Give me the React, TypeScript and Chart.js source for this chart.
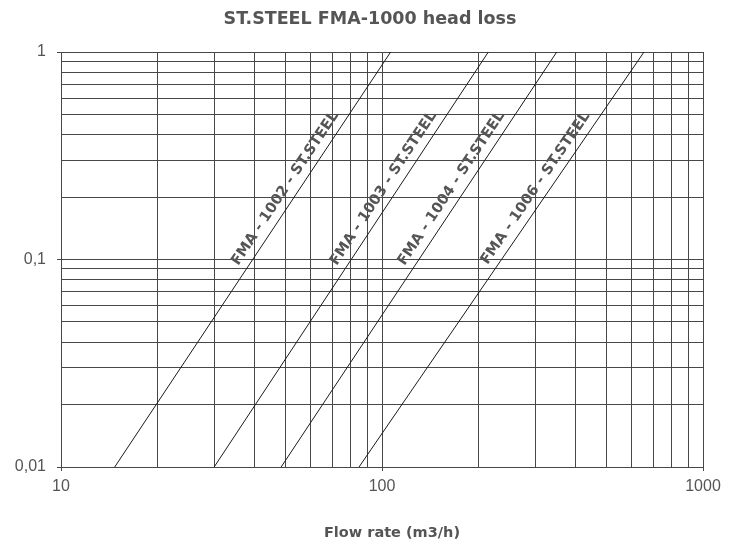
import React, { useEffect, useRef } from 'react';
import { Chart, registerables } from 'chart.js';

Chart.register(...registerables);

// ---- Data ----
const seriesNames = [
  'FMA - 1002 - ST.STEEL',
  'FMA - 1003 - ST.STEEL',
  'FMA - 1004 - ST.STEEL',
  'FMA - 1006 - ST.STEEL',
];
// flow rate (m3/h) where each line crosses head loss 0.01 and 1
const flowAtLow = [14.7, 30.0, 48.5, 84.8];
const flowAtHigh = [106.4, 214.4, 350.2, 655.0];
const headLossLow = 0.01;
const headLossHigh = 1;

const xMin = 10;
const xMax = 1000;
const yMin = 0.01;
const yMax = 1;
const xMajorTicks = [10, 100, 1000];
const xMajorLabels = ['10', '100', '1000'];
const yMajorTicks = [0.01, 0.1, 1];
const yMajorLabels = ['0,01', '0,1', '1'];

const chartTitle = 'ST.STEEL FMA-1000 head loss';
const xAxisTitle = 'Flow rate (m3/h)';

// ---- helpers ----
function decadeTicks(min: number, max: number) {
  const out: number[] = [];
  let d = min;
  while (d < max * 1.0001) {
    for (let m = 1; m <= 9; m++) {
      const v = parseFloat((m * d).toPrecision(6));
      if (v <= max * 1.0001) out.push(v);
    }
    d = parseFloat((d * 10).toPrecision(6));
  }
  return out.filter((v, i, a) => a.indexOf(v) === i);
}

function majorIndex(majors: number[], v: number) {
  return majors.findIndex((m) => Math.abs(m - v) / m < 1e-6);
}

const textColor = '#555555';
const gridColor = '#474747';
const boldFamily = '"DejaVu Sans"';

const lineLabelPlugin = {
  id: 'lineLabels',
  afterDatasetsDraw(chart: any) {
    const ctx = chart.ctx;
    chart.data.datasets.forEach((ds: any, i: number) => {
      const meta = chart.getDatasetMeta(i);
      const p0 = meta.data[0];
      const p1 = meta.data[1];
      if (!p0 || !p1) return;
      const angle = Math.atan2(p1.y - p0.y, p1.x - p0.x);
      const t = 0.655;
      const x = p0.x + t * (p1.x - p0.x);
      const y = p0.y + t * (p1.y - p0.y);
      ctx.save();
      ctx.translate(x, y);
      ctx.rotate(angle);
      ctx.font = `bold 14.5px ${boldFamily}`;
      ctx.fillStyle = textColor;
      ctx.textAlign = 'center';
      ctx.textBaseline = 'bottom';
      ctx.fillText(ds.label, 0, -5);
      ctx.restore();
    });
  },
};

const titlesPlugin = {
  id: 'titles',
  afterDraw(chart: any) {
    const ctx = chart.ctx;
    const a = chart.chartArea;
    const cx = (a.left + a.right) / 2;
    ctx.save();
    ctx.fillStyle = textColor;
    ctx.textAlign = 'center';
    ctx.textBaseline = 'middle';
    ctx.font = `bold 17.5px ${boldFamily}`;
    ctx.fillText(chartTitle, cx - 12, a.top - 33);
    ctx.font = `bold 14.5px ${boldFamily}`;
    ctx.fillText(xAxisTitle, cx + 10, chart.height - 11);
    ctx.restore();
  },
};

export default function App() {
  const canvasRef = useRef<HTMLCanvasElement | null>(null);

  useEffect(() => {
    if (!canvasRef.current) return;
    const datasets = seriesNames.map((name, i) => ({
      label: name,
      data: [
        { x: flowAtLow[i], y: headLossLow },
        { x: flowAtHigh[i], y: headLossHigh },
      ],
      borderColor: '#1a1a1a',
      borderWidth: 1,
      pointRadius: 0,
      fill: false,
      tension: 0,
    }));

    const chart = new Chart(canvasRef.current, {
      type: 'line',
      data: { datasets },
      plugins: [lineLabelPlugin, titlesPlugin],
      options: {
        responsive: false,
        animation: false,
        layout: { padding: { left: 0, right: 28, top: 52, bottom: 0 } },
        plugins: {
          legend: { display: false },
          tooltip: { enabled: false },
          title: { display: false },
        },
        scales: {
          x: {
            type: 'logarithmic',
            position: 'bottom',
            min: xMin,
            max: xMax,
            afterBuildTicks: (scale: any) => {
              scale.ticks = decadeTicks(xMin, xMax).map((v) => ({ value: v }));
            },
            afterFit: (scale: any) => {
              scale.height = 77;
            },
            ticks: {
              autoSkip: false,
              maxRotation: 0,
              minRotation: 0,
              padding: 6,
              color: textColor,
              font: { family: '"Liberation Sans"', size: 16 },
              callback: (value: any) => {
                const i = majorIndex(xMajorTicks, Number(value));
                return i >= 0 ? xMajorLabels[i] : '';
              },
            },
            grid: {
              color: gridColor,
              lineWidth: 1,
              drawTicks: true,
              tickLength: 4,
              tickColor: (c: any) =>
                c.tick && majorIndex(xMajorTicks, c.tick.value) >= 0 ? gridColor : 'rgba(0,0,0,0)',
            },
            border: { color: gridColor, width: 1 },
          },
          y: {
            type: 'logarithmic',
            position: 'left',
            min: yMin,
            max: yMax,
            afterBuildTicks: (scale: any) => {
              scale.ticks = decadeTicks(yMin, yMax).map((v) => ({ value: v }));
            },
            afterFit: (scale: any) => {
              scale.width = 61;
            },
            ticks: {
              autoSkip: false,
              padding: 11,
              color: textColor,
              font: { family: '"Liberation Sans"', size: 16 },
              callback: (value: any) => {
                const i = majorIndex(yMajorTicks, Number(value));
                return i >= 0 ? yMajorLabels[i] : '';
              },
            },
            grid: {
              color: gridColor,
              lineWidth: 1,
              drawTicks: true,
              tickLength: 4,
              tickColor: (c: any) =>
                c.tick && majorIndex(yMajorTicks, c.tick.value) >= 0 ? gridColor : 'rgba(0,0,0,0)',
            },
            border: { color: gridColor, width: 1 },
          },
        },
      },
    } as any);

    return () => chart.destroy();
  }, []);

  return (
    <div style={{ position: 'absolute', left: 0, top: 0, width: 731, height: 544, background: '#fff' }}>
      <canvas ref={canvasRef} width={731} height={544} />
    </div>
  );
}
